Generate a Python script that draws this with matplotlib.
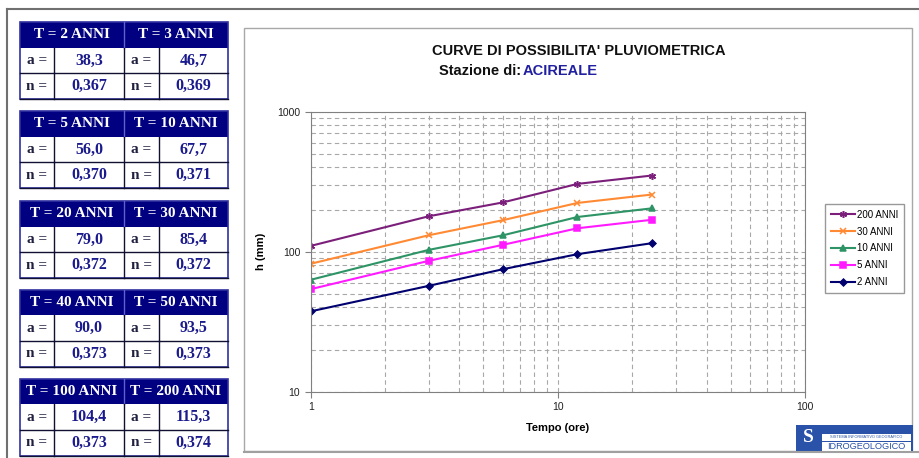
import matplotlib.pyplot as plt
import matplotlib.patches as mpatches
from matplotlib.ticker import LogLocator, NullFormatter, FixedLocator, FixedFormatter

# ---- table data (parameters a, n for each return period)
T_labels = ["T = 2 ANNI", "T = 3 ANNI", "T = 5 ANNI", "T = 10 ANNI",
            "T = 20 ANNI", "T = 30 ANNI", "T = 40 ANNI", "T = 50 ANNI",
            "T = 100 ANNI", "T = 200 ANNI"]
a_vals = ["38,3", "46,7", "56,0", "67,7", "79,0", "85,4", "90,0", "93,5", "104,4", "115,3"]
n_vals = ["0,367", "0,369", "0,370", "0,371", "0,372", "0,372", "0,373", "0,373", "0,373", "0,374"]

# ---- chart data (durations in hours, h in mm)
durations = [1, 3, 6, 12, 24]
h_200 = [110, 179, 225, 305, 350]
h_30 = [82, 131, 168, 223, 256]
h_10 = [63, 103, 131, 177, 204]
h_5 = [54, 86, 112, 147, 169]
h_2 = [37.5, 57, 75, 96, 115]

W, H = 919, 458

fig = plt.figure(figsize=(9.19, 4.58), dpi=100)
bg = fig.add_axes([0, 0, 1, 1])
bg.set_xlim(0, W)
bg.set_ylim(H, 0)
bg.axis('off')

# outer frame lines
bg.plot([7, W], [9, 9], color='#707070', lw=1.5)
bg.plot([7, 7], [9, H], color='#707070', lw=1.5)
bg.plot([244, W], [452, 452], color='#a0a0a0', lw=1.5)
# chart box
bg.add_patch(mpatches.Rectangle((244, 28), 668, 423, fill=False, ec='#a8a8a8', lw=1))

# ---- tables
tops = [22, 111, 201, 289.5, 378.5]
rh = 25.7
x0, xm, x1 = 19.5, 124, 228
cols = [(19.5, 54, 124), (124, 159, 228)]
serif = 'Liberation Serif'
for k, top in enumerate(tops):
    bg.add_patch(mpatches.Rectangle((x0, top), x1 - x0, rh, color='#000080', lw=0))
    bg.plot([xm, xm], [top, top + rh], color='#6060d0', lw=1)
    for j in range(2):
        i = 2 * k + j
        cl, cm, cr = cols[j]
        bg.text((cl + cr) / 2, top + rh / 2, T_labels[i], color='white', fontsize=11,
                fontweight='bold', family=serif, ha='center', va='center')
        for r, (lab, val) in enumerate([("a =", a_vals[i]), ("n =", n_vals[i])]):
            yc = top + rh * (r + 1.5)
            bg.text((cl + cm) / 2, yc, lab, color='#202040', fontsize=11,
                    fontweight='bold', family=serif, ha='center', va='center')
            bg.text((cm + cr) / 2, yc, val, color='#1a1a8c', fontsize=11.5,
                    fontweight='bold', family=serif, ha='center', va='center')
            bg.plot([cm, cm], [top + rh * (r + 1), top + rh * (r + 2)], color='#101030', lw=1)
    for r in (1, 2):
        bg.plot([x0, x1], [top + rh * (r + 1), top + rh * (r + 1)], color='#101030', lw=1)
    bg.plot([xm, xm], [top + rh, top + 3 * rh], color='#101030', lw=1)
    bg.add_patch(mpatches.Rectangle((x0, top), x1 - x0, 3 * rh, fill=False, ec='#3030a0', lw=1.2))

# ---- titles
bg.text(432, 51, "CURVE DI POSSIBILITA' PLUVIOMETRICA", fontsize=10.5, fontweight='bold',
        family='Liberation Sans', va='center', color='#101010')
bg.text(439, 71, "Stazione di: ", fontsize=10.5, fontweight='bold',
        family='Liberation Sans', va='center', color='#101010')
bg.text(523, 71, "ACIREALE", fontsize=10.5, fontweight='bold',
        family='Liberation Sans', va='center', color='#2020a0')

# ---- logo
bg.add_patch(mpatches.Rectangle((796, 425), 117, 27, color='#2a52a8', lw=0))
bg.add_patch(mpatches.Rectangle((822, 434), 89, 7, color='white', lw=0))
bg.add_patch(mpatches.Rectangle((822, 442), 89, 9, color='white', lw=0))
bg.text(866, 446.5, "IDROGEOLOGICO", fontsize=6.6, color='#2a52a8', family='Liberation Sans',
        ha='center', va='center')
bg.text(866, 437.5, "SISTEMA INFORMATIVO GEOGRAFICO", fontsize=2.8, color='#2a52a8',
        family='Liberation Sans', ha='center', va='center')
bg.text(808, 438, "S", fontsize=14, color='white', fontweight='bold',
        family='Liberation Serif', ha='center', va='center')

# ---- chart
ax = fig.add_axes([310.7 / W, 1 - 391.7 / H, (805 - 310.7) / W, (391.7 - 111.7) / H])
ax.set_xscale('log')
ax.set_yscale('log')
ax.set_xlim(1, 100)
ax.set_ylim(10, 1000)

series = [
    ("200 ANNI", h_200, '#7b1f7b', (6, 2, 0), 5),
    ("30 ANNI", h_30, '#ff8a33', 'x', 4.5),
    ("10 ANNI", h_10, '#2e9466', '^', 4.5),
    ("5 ANNI", h_5, '#ff1aff', 's', 4.5),
    ("2 ANNI", h_2, '#00006e', 'D', 3.5),
]
for lab, vals, c, m, ms in series:
    ax.plot(durations, vals, color=c, marker=m, ms=ms, lw=1.5, mew=1.1, label=lab)

ax.xaxis.set_minor_locator(LogLocator(base=10, subs=range(2, 10)))
ax.yaxis.set_minor_locator(LogLocator(base=10, subs=range(2, 10)))
ax.xaxis.set_minor_formatter(NullFormatter())
ax.yaxis.set_minor_formatter(NullFormatter())
ax.xaxis.set_major_locator(FixedLocator([1, 10, 100]))
ax.xaxis.set_major_formatter(FixedFormatter(["1", "10", "100"]))
ax.yaxis.set_major_locator(FixedLocator([10, 100, 1000]))
ax.yaxis.set_major_formatter(FixedFormatter(["10", "100", "1000"]))
ax.grid(True, which='both', color='#a8a8a8', linestyle=(0, (4, 3)), lw=0.8)
ax.tick_params(which='major', direction='out', length=4, color='#808080',
               labelsize=7.5, labelcolor='#202020')
ax.tick_params(which='minor', length=0)
for s in ax.spines.values():
    s.set_color('#808080')
for t in ax.get_xticklabels() + ax.get_yticklabels():
    t.set_family('Liberation Sans')
ax.set_xlabel("Tempo (ore)", fontsize=8, fontweight='bold', family='Liberation Sans', labelpad=8)
ax.set_ylabel("h (mm)", fontsize=8, fontweight='bold', family='Liberation Sans', labelpad=8)

leg = fig.legend(loc='upper left', bbox_to_anchor=(825 / W, 1 - 204 / H),
                 prop={'family': 'Liberation Sans', 'size': 7}, frameon=True,
                 fancybox=False, edgecolor='#808080', handlelength=2.5,
                 borderpad=0.6, labelspacing=0.7, handletextpad=0.2, borderaxespad=0)
leg.get_frame().set_linewidth(1)

fig.savefig('out.png', dpi=100)
